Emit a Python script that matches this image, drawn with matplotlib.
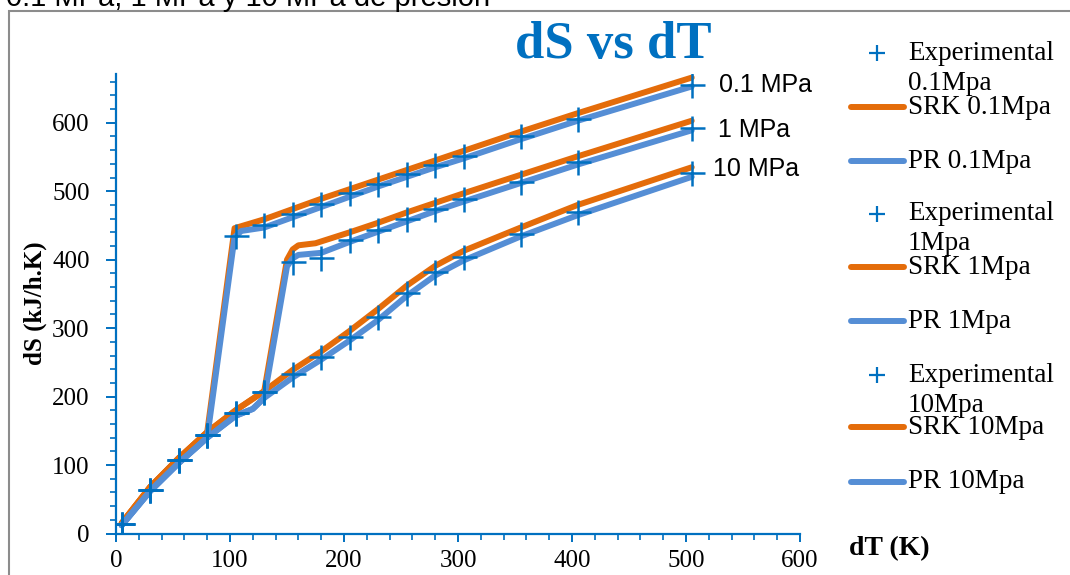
import numpy as np
import matplotlib
matplotlib.use("Agg")
import matplotlib.pyplot as plt
from matplotlib.patches import Rectangle

# experimental points (dT in K, dS in kJ/h.K)
dT_exp = [5, 30, 55, 80, 105, 130, 155, 180, 205, 230, 255, 280, 305, 355, 405, 505]
exp_01 = [14, 64, 107, 144, 434, 450, 467, 481, 497, 511, 525, 539, 552, 580, 606, 655]
exp_1 = [14, 64, 107, 144, 176, 206, 396, 403, 429, 444, 459, 474, 488, 514, 542, 592]
exp_10 = [14, 64, 107, 144, 176, 206, 233, 258, 287, 316, 352, 382, 404, 438, 470, 526]

# SRK model curves
dT_srk_01 = [5, 30, 55, 80, 104, 130, 155, 180, 205, 230, 255, 280, 305, 355, 405, 505]
srk_01 = [15, 68, 110, 148, 446, 459, 474, 489, 503, 517, 531, 545, 559, 587, 614, 666]
dT_srk_1 = [5, 30, 55, 80, 105, 130, 150, 155, 160, 175, 205, 230, 255, 280, 305, 355, 405, 505]
srk_1 = [15, 68, 110, 148, 180, 208, 400, 415, 421, 424, 440, 454, 469, 483, 497, 524, 551, 603]
dT_srk_10 = [5, 30, 55, 80, 105, 130, 155, 180, 205, 230, 255, 280, 305, 355, 405, 505]
srk_10 = [15, 68, 110, 148, 180, 208, 239, 266, 296, 328, 362, 391, 413, 447, 480, 535]

# PR model curves
dT_pr_01 = [5, 30, 55, 70, 80, 104, 110, 130, 155, 180, 205, 230, 255, 280, 305, 355, 405, 505]
pr_01 = [12, 62, 103, 125, 140, 433, 442, 447, 462, 477, 492, 507, 521, 535, 548, 576, 603, 653]
dT_pr_1 = [5, 30, 55, 80, 105, 120, 130, 150, 155, 160, 180, 205, 230, 255, 280, 305, 355, 405, 505]
pr_1 = [12, 62, 103, 140, 172, 182, 198, 390, 402, 407, 410, 426, 441, 456, 471, 485, 512, 539, 589]
dT_pr_10 = [5, 30, 55, 70, 80, 105, 120, 130, 155, 180, 205, 230, 255, 280, 305, 355, 405, 505]
pr_10 = [12, 62, 103, 125, 140, 172, 182, 198, 228, 254, 282, 312, 347, 377, 399, 434, 465, 521]

end_labels = ["0.1 MPa", "1 MPa", "10 MPa"]
legend_labels = ["Experimental\n0.1Mpa", "SRK 0.1Mpa", "PR 0.1Mpa",
                 "Experimental\n1Mpa", "SRK 1Mpa", "PR 1Mpa",
                 "Experimental\n10Mpa", "SRK 10Mpa", "PR 10Mpa"]

ORANGE = "#E46C0A"
BLUE = "#558ED5"
MARK = "#0070C0"
SERIF = "Liberation Serif"
SANS = "Liberation Sans"

W, H = 1070, 575
fig = plt.figure(figsize=(W / 100, H / 100), dpi=100)

# outer frame (only left/top visible in the crop)
fig.patches.append(Rectangle((9 / W, -0.1), 1.2, 1 - 11 / H + 0.1, transform=fig.transFigure,
                             fill=False, edgecolor="#8c8c8c", linewidth=1.5))
# caption line above the chart, cut off by the crop
fig.text(6 / W, 1 - 6 / H, "0.1 MPa, 1 MPa y 10 MPa de presión", family=SANS,
         fontsize=21, va="baseline", ha="left", color="black")

ax = fig.add_axes([116 / W, (H - 533.5) / H, 684 / W, 460 / H])

lw = 4.3
for xs, ys in [(dT_srk_01, srk_01), (dT_srk_1, srk_1), (dT_srk_10, srk_10)]:
    ax.plot(xs, ys, color=ORANGE, lw=lw, solid_capstyle="round", solid_joinstyle="round", zorder=2)
for xs, ys in [(dT_pr_01, pr_01), (dT_pr_1, pr_1), (dT_pr_10, pr_10)]:
    ax.plot(xs, ys, color=BLUE, lw=lw, solid_capstyle="round", solid_joinstyle="round", zorder=3)
for ys in [exp_01, exp_1, exp_10]:
    ax.plot(dT_exp, ys, linestyle="none", marker="+", markersize=18, markeredgewidth=1.8,
            color=MARK, zorder=4)

for ys, lab, dx, dy in zip([exp_01, exp_1, exp_10], end_labels, [20, 19, 15], [0, -1, 3.5]):
    ax.annotate(lab, xy=(dT_exp[-1], ys[-1]), xytext=(dx, dy), textcoords="offset points",
                family=SANS, fontsize=18, va="center", ha="left", color="black")

ax.set_xlim(0, 600)
ax.set_ylim(0, 672)
ax.set_xticks(np.arange(0, 601, 100))
ax.set_xticks(np.arange(0, 601, 20), minor=True)
ax.set_yticks(np.arange(0, 601, 100))
ax.set_yticks(np.arange(0, 661, 20), minor=True)
for s in ["top", "right"]:
    ax.spines[s].set_visible(False)
for s in ["left", "bottom"]:
    ax.spines[s].set_color(MARK)
    ax.spines[s].set_linewidth(1.6)
ax.tick_params(which="major", length=6, width=1.4, color=MARK, labelsize=18)
ax.tick_params(which="minor", length=4, width=1.2, color=MARK)
ax.tick_params(axis="y", which="major", pad=12, length=7)
ax.tick_params(axis="x", which="major", pad=6)
for t in ax.get_xticklabels() + ax.get_yticklabels():
    t.set_family(SERIF)
ax.set_ylabel("dS (kJ/h.K)", family=SERIF, fontsize=18, fontweight="bold", labelpad=4)
fig.text(889 / W, 1 - 549 / H, "dT (K)", family=SERIF, fontsize=20, fontweight="bold",
         ha="center", va="center")
fig.text(613 / W, 1 - 45 / H, "dS vs dT", family=SERIF, fontsize=38, fontweight="bold",
         color=MARK, ha="center", va="center")

# legend drawn on an overlay in pixel units
lg = fig.add_axes([0, 0, 1, 1])
lg.set_xlim(0, W)
lg.set_ylim(H, 0)
lg.axis("off")
rows = [53, 107, 161, 214, 267, 321, 375, 427, 482]
for i, (y, lab) in enumerate(zip(rows, legend_labels)):
    kind = i % 3
    if kind == 0:
        lg.plot([877], [y], marker="+", markersize=12, markeredgewidth=1.6, color=MARK)
        l1, l2 = lab.split("\n")
        lg.text(908, y, l1, family=SERIF, fontsize=19.5, va="center", ha="left")
        lg.text(908, y + 30, l2, family=SERIF, fontsize=19.5, va="center", ha="left")
    else:
        lg.plot([851, 904], [y, y], color=ORANGE if kind == 1 else BLUE, lw=4.3,
                solid_capstyle="round")
        lg.text(908, y, lab, family=SERIF, fontsize=19.5, va="center", ha="left")

fig.savefig("out.png", dpi=100)
